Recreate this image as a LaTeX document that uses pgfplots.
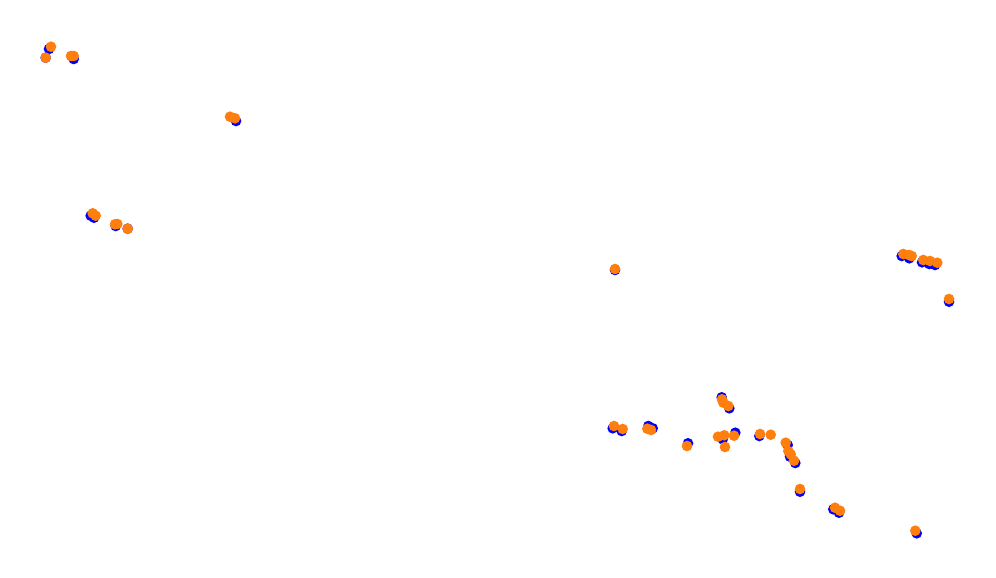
\documentclass[border=0pt]{standalone}
\usepackage{pgfplots}
\pgfplotsset{compat=1.18}
\definecolor{myblue}{RGB}{0,0,255}
\definecolor{myorange}{RGB}{255,127,14}
\begin{document}
\begin{tikzpicture}
\begin{axis}[
  name=ax,
  scale only axis, width=9.96cm, height=5.77cm,
  xmin=0, xmax=996, ymin=0, ymax=577, y dir=reverse,
  axis lines=none, ticks=none, clip=false,
]
\addplot[only marks, mark=*, mark size=1.3pt, mark options={draw=myblue, fill=myblue}] coordinates {
(49,49) (45.7,57.7) (73.7,59)
(90.7,215.7) (94,217.7) (115.7,226) (127.7,228.7)
(236,121)
(615,270)
(612.7,428.3) (621.7,431) (648.3,426) (652.7,428.3)
(688,443.3)
(721.7,397.3) (729.3,408.3)
(722.7,439.3) (735.3,432.7)
(759.3,436)
(787.7,445) (790,456.7) (795.3,463)
(800,491.7) (833.3,509.3) (839,512.7) (916.7,533.3)
(901.7,256) (909.3,258.3) (922,262.3) (929.3,264) (935,265)
(949,301.7)
};
\addplot[only marks, mark=*, mark size=1.3pt, mark options={draw=myorange, fill=myorange}] coordinates {
(51,46.7) (45.7,57.7) (71,56) (73.7,56)
(92.7,213.3) (95.7,215.7) (117.3,224) (115,224.3) (127.7,228.7)
(230,116.7) (235,118.3)
(615,269)
(614,426) (622.7,429) (647.3,428.7) (651,430)
(687,446)
(722,399.3) (723.3,402.7) (728.3,406)
(718,436.7) (724.3,435.3) (725,447) (734,435.7)
(760,434) (770.7,434.7)
(785.7,442.7) (788.3,451) (790.7,454.3) (794,460.7)
(800,489) (835,507.7) (840,510.7) (915.3,530.7)
(903.3,254) (909,255) (911.7,256) (923.3,260) (930,261) (937.3,262.7)
(949,299)
};
\end{axis}
\pgfresetboundingbox
\path (ax.south west) rectangle (ax.north east);
\end{tikzpicture}
\end{document}
